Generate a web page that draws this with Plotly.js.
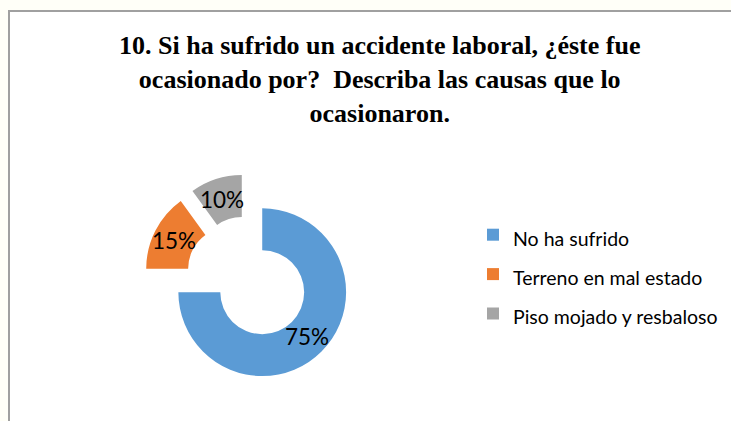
<!DOCTYPE html>
<html>
<head>
<meta charset="utf-8">
<script src="https://cdn.plot.ly/plotly-3.0.1.min.js"></script>
<style>html,body{margin:0;padding:0;background:#fffff8;}#chart{width:731px;height:421px;}</style>
</head>
<body>
<div id="chart"></div>
<script>
var categories = ["No ha sufrido", "Terreno en mal estado", "Piso mojado y resbaloso"];
var values = [75, 15, 10];
var colors = ["#5b9bd5", "#ed7d31", "#a5a5a5"];
var titleText = "10. Si ha sufrido un accidente laboral, ¿éste fue<br>ocasionado por?  Describa las causas que lo<br>ocasionaron.";

var W = 731, H = 421;
var HOLE = 0.5, PULL = 0.24;
var domX = [144 / W, 352 / W], domY = [1 - 382 / H, 1 - 174 / H];

var legendLabels = categories.map(function (c) {
  return '<span style="font-size:19.5px">' + c + '</span>';
});

// Percentage labels placed from the data, the way the pie lays out its slices
var total = values.reduce(function (a, b) { return a + b; }, 0);
var cxPx = (domX[0] + domX[1]) / 2 * W;
var cyPx = (1 - (domY[0] + domY[1]) / 2) * H;
var sizePx = Math.min((domX[1] - domX[0]) * W, (domY[1] - domY[0]) * H);
var rPx = sizePx / 2 / (1 + PULL);
var annotations = [];
var cum = 0;
values.forEach(function (v) {
  var mid = (cum + v / 2) / total * 2 * Math.PI; // clockwise from top
  cum += v;
  var dx = Math.sin(mid), dy = -Math.cos(mid);
  var dist = PULL * rPx + rPx * (1 + HOLE) / 2;
  var px = cxPx + dist * dx, py = cyPx + dist * dy;
  annotations.push({
    x: px / W, y: 1 - py / H, xref: "paper", yref: "paper",
    text: Math.round(v / total * 100) + "%",
    showarrow: false, xanchor: "center", yanchor: "middle",
    font: { family: "Lato", size: 22.5, color: "#000000" }
  });
});

// Chart title (drawn as a paper annotation so the serif face is honoured)
annotations.push({
  x: 379 / W, y: 1 - 80 / H, xref: "paper", yref: "paper",
  xanchor: "center", yanchor: "middle", align: "center", showarrow: false,
  text: "<b>" + titleText + "</b>",
  font: { family: "Liberation Serif", size: 26, color: "#000000" }
});

var trace = {
  type: "pie",
  labels: legendLabels,
  values: values,
  hole: HOLE,
  pull: values.map(function () { return PULL; }),
  sort: false,
  direction: "clockwise",
  rotation: 0,
  marker: { colors: colors, line: { width: 0 } },
  textposition: "none",
  domain: { x: domX, y: domY },
  hoverinfo: "label+percent"
};

var layout = {
  width: W, height: H,
  margin: { l: 0, r: 0, t: 0, b: 0 },
  paper_bgcolor: "#fffff8",
  showlegend: true,
  legend: {
    x: 473 / W, xanchor: "left",
    y: 1 - 210 / H, yanchor: "top",
    font: { family: "Lato", size: 28, color: "#000000" },
    bgcolor: "rgba(0,0,0,0)"
  },
  annotations: annotations,
  shapes: [{
    type: "rect", xref: "paper", yref: "paper", layer: "below",
    x0: 9 / W, x1: 1.05, y0: -0.05, y1: 1 - 11 / H,
    fillcolor: "#ffffff", line: { color: "#a0a0a0", width: 2 }
  }]
};

Plotly.newPlot("chart", [trace], layout, { displayModeBar: false, staticPlot: true });
</script>
</body>
</html>
